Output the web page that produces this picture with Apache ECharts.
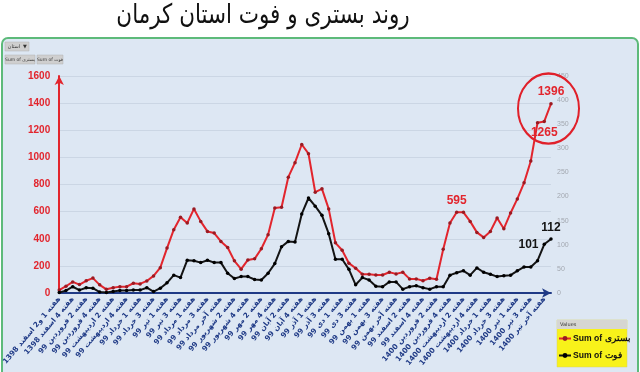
<!DOCTYPE html>
<html>
<head>
<meta charset="utf-8">
<script src="https://cdn.jsdelivr.net/npm/echarts@6/dist/echarts.min.js"></script>
<style>
html,body{margin:0;padding:0;background:#fff;}
#c{width:640px;height:372px;}
</style>
</head>
<body>
<div id="c"></div>
<script>
const titleText = 'روند بستری و فوت استان کرمان';
const seriesNames = ['Sum of بستری', 'Sum of فوت'];
const categories = [
'هفته 1 و2 اسفند 1398','هفته 3 اسفند 1398','هفته 4 اسفند 1398','هفته 1 فروردین 99',
'هفته 2 فروردین 99','هفته 3 فروردین 99','هفته 4 فروردین 99','هفته 1 اردیبهشت 99',
'هفته 2 اردیبهشت 99','هفته 3 اردیبهشت 99','هفته 4 اردیبهشت 99','هفته آخر اردیبهشت 99',
'هفته 1 خرداد 99','هفته 2 خرداد 99','هفته 3 خرداد 99','هفته 4 خرداد 99',
'هفته 1 تیر 99','هفته 2 تیر 99','هفته 3 تیر 99','هفته 4 تیر 99',
'هفته 1 مرداد 99','هفته 2 مرداد 99','هفته 3 مرداد 99','هفته 4 مرداد 99',
'هفته آخر مرداد 99','هفته 1 شهریور 99','هفته 2 شهریور 99','هفته 3 شهریور 99',
'هفته 4 شهریور 99','هفته 1 مهر 99','هفته 2 مهر 99','هفته 3 مهر 99',
'هفته 4 مهر 99','هفته 1 آبان 99','هفته 2 آبان 99','هفته 3 آبان 99',
'هفته 4 آبان 99','هفته آخر آبان 99','هفته 1 آذر 99','هفته 2 آذر 99',
'هفته 3 آذر 99','هفته 4 آذر 99','هفته 1 دی 99','هفته 2 دی 99',
'هفته 3 دی 99','هفته 4 دی 99','هفته 1 بهمن 99','هفته 2 بهمن 99',
'هفته 3 بهمن 99','هفته 4 بهمن 99','هفته آخر بهمن 99','هفته 1 اسفند 99',
'هفته 2 اسفند 99','هفته 3 اسفند 99','هفته 4 اسفند 99','هفته 1 فروردین 1400',
'هفته 2 فروردین 1400','هفته 3 فروردین 1400','هفته 4 فروردین 1400','هفته 1 اردیبهشت 1400',
'هفته 2 اردیبهشت 1400','هفته 3 اردیبهشت 1400','هفته 4 اردیبهشت 1400','هفته آخر اردیبهشت 1400',
'هفته 1 خرداد 1400','هفته 2 خرداد 1400','هفته 3 خرداد 1400','هفته 4 خرداد 1400',
'هفته 1 تیر 1400','هفته 2 تیر 1400','هفته 3 تیر 1400','هفته 4 تیر 1400',
'هفته آخر تیر 1400','هفته 1 مرداد 1400'
];
// بستری (left axis)
const hospitalized = [
22,50,82,62,90,110,60,27,39,47,47,72,67,89,126,187,
331,467,558,516,620,528,454,442,380,336,237,176,244,252,326,430,
627,632,854,961,1095,1027,743,768,620,370,315,220,183,138,138,133,
133,153,141,153,104,104,91,109,101,323,516,595,595,528,447,410,
454,553,474,590,694,812,973,1255,1265,1396
];
// فوت (right axis)
const deaths = [
1,5,13,6,11,10,2,1,3,5,5,6,6,11,3,10,
21,37,32,68,67,63,68,63,63,41,30,34,34,28,27,41,
61,96,107,106,164,197,180,161,123,70,70,49,17,32,27,14,
13,23,23,8,13,15,11,8,13,13,37,42,46,37,52,43,
39,34,36,37,46,54,54,67,101,112
];
const leftAxis = {min: 0, max: 1600, step: 200};
const rightAxis = {min: 0, max: 450, step: 50};
const legendHeader = 'Values';
const filterButton = 'استان';

const RED = '#e2252d', BLACK = '#141414', NAVY = '#1f3a86';
const redLabelPos = {59: 'top', 72: 'bottom', 73: 'top'};
const blackLabelPos = {72: 'left', 73: 'top'};

function build(values, posMap, color) {
  return values.map((v, i) => {
    if (posMap[i] === undefined) return v;
    return {value: v, label: {show: true, position: posMap[i], color: color,
      fontWeight: 'bold', fontSize: 12, fontFamily: 'Liberation Sans', distance: 4}};
  });
}

const chart = echarts.init(document.getElementById('c'), null, {renderer: 'canvas'});
const option = {
  backgroundColor: '#ffffff',
  animation: false,
  grid: {left: 52, right: 89, top: 76, bottom: 79},
  legend: {
    orient: 'vertical', left: 558, top: 334, padding: 0,
    itemWidth: 12, itemHeight: 6, itemGap: 8,
    data: seriesNames,
    textStyle: {color: '#111', fontWeight: 'bold', fontSize: 8.6, fontFamily: 'Liberation Sans', padding: [0, 0, 0, -3]},
    z: 10
  },
  xAxis: {
    type: 'category', data: categories, boundaryGap: false,
    axisLine: {lineStyle: {color: NAVY, width: 2}, symbol: ['none', 'arrow'], symbolSize: [7, 9]},
    axisTick: {show: false},
    axisLabel: {interval: 1, rotate: 50, color: NAVY, fontWeight: 'bold', fontSize: 7.3, margin: 5, fontFamily: 'DejaVu Sans'},
    splitLine: {show: false}
  },
  yAxis: [{
    type: 'value', min: leftAxis.min, max: leftAxis.max, interval: leftAxis.step,
    axisLine: {show: true, lineStyle: {color: RED, width: 2}, symbol: ['none', 'arrow'], symbolSize: [7, 9]},
    axisTick: {show: false},
    axisLabel: {color: RED, fontWeight: 'bold', fontSize: 10, margin: 9, fontFamily: 'Liberation Sans',
      formatter: v => String(v)},
    splitLine: {lineStyle: {color: '#cbd6e4', width: 1}}
  }, {
    type: 'value', min: rightAxis.min, max: rightAxis.max, interval: rightAxis.step, position: 'right',
    axisLine: {show: false}, axisTick: {show: false},
    axisLabel: {color: '#a3a8b0', fontSize: 7, margin: 6, fontFamily: 'Liberation Sans'},
    splitLine: {show: false}
  }],
  series: [{
    name: seriesNames[0], type: 'line', yAxisIndex: 0,
    data: build(hospitalized, redLabelPos, RED),
    lineStyle: {color: RED, width: 2}, itemStyle: {color: '#9a1a22'},
    symbol: 'circle', symbolSize: 3.5, showAllSymbol: true, z: 3
  }, {
    name: seriesNames[1], type: 'line', yAxisIndex: 1,
    data: build(deaths, blackLabelPos, BLACK),
    lineStyle: {color: BLACK, width: 2}, itemStyle: {color: '#000'},
    symbol: 'circle', symbolSize: 3.5, showAllSymbol: true, z: 3
  }],
  graphic: [
    {type: 'rect', z: -10, silent: true, shape: {x: 2, y: 38, width: 636, height: 340, r: 6},
     style: {fill: '#dde7f3', stroke: '#5dba7a', lineWidth: 2}},
    {type: 'text', z: 5, x: 263, y: 16, scaleY: 1.25, style: {text: titleText, fill: '#111', fontSize: 21.5,
     fontFamily: 'DejaVu Sans', textAlign: 'center', textVerticalAlign: 'middle'}},
    {type: 'rect', z: 5, shape: {x: 5, y: 42, width: 24, height: 9}, style: {fill: '#cfcfcf', stroke: '#b0b0b0', lineWidth: 0.5}},
    {type: 'text', z: 6, x: 14, y: 46.5, style: {text: filterButton, fill: '#333', fontSize: 5, textAlign: 'center', textVerticalAlign: 'middle', fontFamily: 'DejaVu Sans'}},
    {type: 'text', z: 6, x: 25, y: 46.5, style: {text: '▼', fill: '#333', fontSize: 5, textAlign: 'center', textVerticalAlign: 'middle', fontFamily: 'DejaVu Sans'}},
    {type: 'rect', z: 5, shape: {x: 5, y: 55, width: 30, height: 9}, style: {fill: '#cfcfcf', stroke: '#b0b0b0', lineWidth: 0.5}},
    {type: 'text', z: 6, x: 20, y: 59.5, style: {text: seriesNames[0], fill: '#333', fontSize: 4.5, textAlign: 'center', textVerticalAlign: 'middle', fontFamily: 'DejaVu Sans'}},
    {type: 'rect', z: 5, shape: {x: 37, y: 55, width: 26, height: 9}, style: {fill: '#cfcfcf', stroke: '#b0b0b0', lineWidth: 0.5}},
    {type: 'text', z: 6, x: 50, y: 59.5, style: {text: seriesNames[1], fill: '#333', fontSize: 4.5, textAlign: 'center', textVerticalAlign: 'middle', fontFamily: 'DejaVu Sans'}},
    {type: 'rect', z: 5, shape: {x: 557, y: 320, width: 70, height: 47}, style: {fill: '#f8f21a', stroke: '#d8d060', lineWidth: 0.5}},
    {type: 'rect', z: 6, shape: {x: 557, y: 320, width: 70, height: 9}, style: {fill: '#d6d6d2'}},
    {type: 'text', z: 7, x: 560, y: 324.5, style: {text: legendHeader, fill: '#333', fontSize: 5, textVerticalAlign: 'middle', fontFamily: 'DejaVu Sans'}}
  ]
};
chart.setOption(option);

// highlight circle around the latest values (positioned through the axes)
const n = hospitalized.length;
const pLast = chart.convertToPixel({xAxisIndex: 0, yAxisIndex: 0}, [n - 1, hospitalized[n - 1]]);
const pPrev = chart.convertToPixel({xAxisIndex: 0, yAxisIndex: 0}, [n - 2, hospitalized[n - 2]]);
chart.setOption({graphic: option.graphic.concat([{
  type: 'circle', z: 8, silent: true,
  x: pLast[0] - 2.5, y: (pLast[1] + pPrev[1]) / 2 - 4, scaleY: 1.15,
  shape: {cx: 0, cy: 0, r: 30.5},
  style: {fill: 'none', stroke: '#e0202a', lineWidth: 2}
}])});
</script>
</body>
</html>
